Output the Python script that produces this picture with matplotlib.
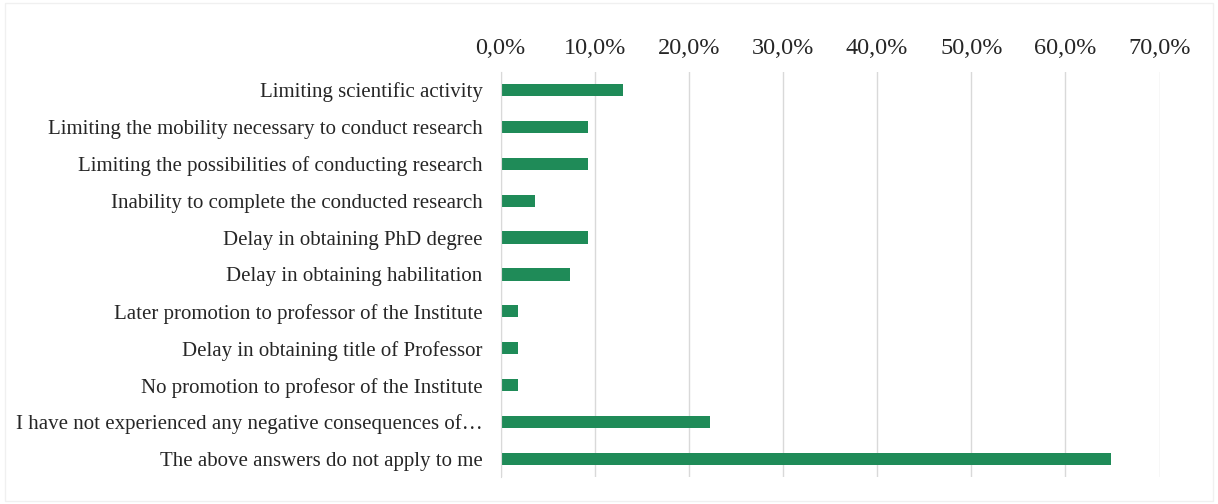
import matplotlib.pyplot as plt
from matplotlib.ticker import FuncFormatter

# ── Data (share of respondents, n = 54) ───────────────────────────────────
categories = [
    "Limiting scientific activity",
    "Limiting the mobility necessary to conduct research",
    "Limiting the possibilities of conducting research",
    "Inability to complete the conducted research",
    "Delay in obtaining PhD degree",
    "Delay in obtaining habilitation",
    "Later promotion to professor of the Institute",
    "Delay in obtaining title of Professor",
    "No promotion to profesor of the Institute",
    "I have not experienced any negative consequences of\u2026",
    "The above answers do not apply to me",
]
shares = [0.130, 0.093, 0.093, 0.037, 0.093, 0.074, 0.019, 0.019, 0.019, 0.222, 0.648]
ticks = [0.0, 0.1, 0.2, 0.3, 0.4, 0.5, 0.6, 0.7]

plt.rcParams["font.family"] = ["Liberation Serif", "DejaVu Serif"]

# ── Plot ──────────────────────────────────────────────────────────────────
fig = plt.figure(figsize=(12.18, 5.04), dpi=100)
ax = fig.add_axes([0.411, 0.053, 0.541, 0.805])

y = list(range(len(categories)))
ax.barh(y, shares, height=0.33, color="#1f8b58")

ax.set_ylim(len(categories) - 0.5, -0.5)
ax.set_yticks(y)
ax.set_yticklabels(categories, fontsize=15, color="#262626")

ax.set_xlim(0, 0.7)
ax.set_xticks(ticks)
ax.xaxis.set_major_formatter(FuncFormatter(lambda v, p: f"{v * 100:.1f}%".replace(".", ",")))
ax.xaxis.tick_top()
ax.tick_params(axis="x", labelsize=17.5, colors="#262626", length=0, pad=9)
ax.tick_params(axis="y", length=0, pad=13)

ax.grid(axis="x", color="#d9d9d9", linewidth=1)
ax.set_axisbelow(True)
for side in ["top", "right", "bottom"]:
    ax.spines[side].set_visible(False)
ax.spines["left"].set_color("#d9d9d9")

# faint frame round the chart area
fig.patches.append(plt.Rectangle((0.004, 0.006), 0.992, 0.988, transform=fig.transFigure,
                                 fill=False, edgecolor="#f0f0f0", linewidth=1))

plt.savefig("out.png", dpi=100)
